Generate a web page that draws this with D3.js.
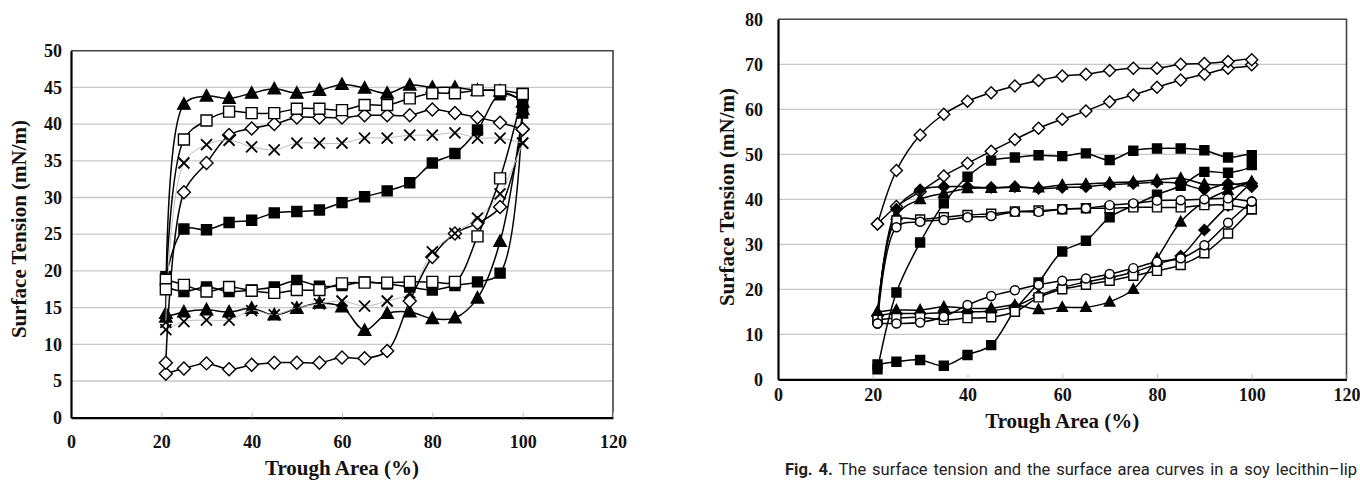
<!DOCTYPE html>
<html><head><meta charset="utf-8">
<script src="https://cdn.jsdelivr.net/npm/d3@7/dist/d3.min.js"></script>
<style>
body{margin:0;background:#fff;} svg{display:block;}
.serifb, .serifb text{font-family:'Liberation Serif','Times New Roman',serif !important;font-weight:bold !important;}
</style>
</head><body><svg id="c" width="1360" height="480"></svg>
<script>
// ---------- DATA ----------
const areaSteps = [21,25,30,35,40,45,50,55,60,65,70,75,80,85,90,95,100];
const xTickValues = [0,20,40,60,80,100,120];
const leftYTicks = [0,5,10,15,20,25,30,35,40,45,50];
const rightYTicks = [0,10,20,30,40,50,60,70,80];
const xTitle = "Trough Area (%)";
const yTitle = "Surface Tension (mN/m)";
const captionBold = "Fig. 4.";
const captionText = " The surface tension and the surface area curves in a soy lecithin\u2013lip";

// Left panel: lower branch and upper branch, values at areaSteps
const L_sqF_low = [17.8,17.2,17.8,17.2,17.4,17.8,18.7,17.9,18.0,18.5,18.2,17.8,17.4,18.0,18.5,19.7,41.5];
const L_sqF_up  = [19.2,25.7,25.6,26.6,26.9,27.9,28.1,28.3,29.3,30.1,30.9,32.0,34.7,36.0,39.2,44.0,43.0];
const L_tri_low = [13.7,14.4,14.7,14.4,14.9,14.0,14.9,15.6,15.1,11.9,14.2,14.4,13.5,13.6,16.3,24.0,42.0];
const L_tri_up  = [14.2,42.7,43.8,43.5,44.2,44.8,44.2,44.6,45.4,44.9,44.2,45.3,45.0,45.0,44.6,44.5,43.0];
const L_dia_low = [6.0,6.7,7.4,6.6,7.2,7.5,7.5,7.5,8.2,8.1,9.1,15.9,21.9,25.1,26.5,28.7,39.3];
const L_dia_up  = [7.5,30.7,34.7,38.5,39.4,40.0,40.9,40.9,40.9,41.2,41.2,41.2,42.0,41.5,40.9,40.2,39.3];
const L_x_low   = [12.0,13.1,13.3,13.3,14.6,14.0,15.0,15.5,15.9,15.2,15.9,17.0,22.6,25.1,27.2,30.5,37.4];
const L_x_up    = [13.0,34.7,37.2,37.8,36.9,36.5,37.4,37.4,37.4,38.1,38.1,38.5,38.5,38.8,38.1,38.1,37.4];
const L_sqO_low = [18.8,18.1,17.2,17.8,17.3,17.0,17.4,17.4,18.3,18.4,18.4,18.5,18.5,18.5,24.7,32.6,44.1];
const L_sqO_up  = [17.5,37.9,40.5,41.7,41.5,41.5,42.1,42.1,41.9,42.6,42.6,43.5,44.2,44.2,44.6,44.6,44.1];

// Right panel
const R_dia_low  = [34.5,38.4,41.7,45.2,48.0,50.7,53.3,55.8,57.8,59.6,61.7,63.2,64.9,66.5,67.8,69.1,69.9];
const R_dia_up   = [34.5,46.4,54.3,58.9,61.8,63.7,65.2,66.4,67.4,67.8,68.6,69.1,69.1,70.0,70.2,70.6,71.0];
const R_sqF_low  = [3.3,3.9,4.3,3.0,5.4,7.6,15.4,21.5,28.4,30.8,36.0,38.6,41.0,43.0,46.1,45.9,47.6];
const R_sqF_up   = [2.2,19.3,30.4,39.1,45.0,48.6,49.3,49.8,49.6,50.2,48.7,50.8,51.3,51.3,50.9,49.3,49.8];
const R_tri_low  = [15.0,15.4,15.4,16.1,15.8,15.8,16.5,15.5,16.0,16.0,17.2,20.0,26.9,35.0,39.5,42.0,43.9];
const R_tri_up   = [15.0,36.5,40.0,41.3,42.4,42.5,42.7,42.6,43.2,43.4,43.7,43.9,44.3,44.7,43.4,43.2,43.9];
const R_diaF_low = [14.2,14.6,14.6,14.8,15.0,15.2,16.2,18.6,20.4,21.6,22.6,23.8,25.6,27.4,33.2,38.6,43.5];
const R_diaF_up  = [14.2,37.8,42.1,42.8,42.8,42.6,42.8,42.4,42.6,42.8,43.3,43.5,43.8,43.5,42.2,43.5,42.8];
const R_sqO_low  = [13.2,13.6,13.8,13.2,13.6,13.8,15.0,18.2,20.0,21.0,21.9,23.0,24.1,25.4,28.0,32.4,37.8];
const R_sqO_up   = [13.2,35.3,35.5,36.0,36.5,36.8,37.3,37.5,37.8,38.0,38.0,38.2,38.2,38.2,38.7,38.7,37.8];
const R_cir_low  = [12.4,12.4,12.6,13.9,16.5,18.5,19.8,21.0,21.9,22.4,23.4,24.7,26.1,26.9,29.8,34.8,39.5];
const R_cir_up   = [12.4,33.8,35.0,35.4,36.0,36.3,37.2,37.2,37.8,38.0,38.7,39.1,39.7,39.8,40.0,40.2,39.5];

// ---------- DRAW ----------
const svg = d3.select("#c");

function markerPath(type, s){
  switch(type){
    case "square": return `M${-s},${-s}h${2*s}v${2*s}h${-2*s}Z`;
    case "diamond": return `M0,${-s}L${s},0L0,${s}L${-s},0Z`;
    case "triangle": return `M0,${-s}L${s*0.95},${s*0.75}L${-s*0.95},${s*0.75}Z`;
    case "x": return `M${-s},${-s}L${s},${s}M${s},${-s}L${-s},${s}`;
    case "circle": return d3.symbol(d3.symbolCircle, Math.PI*s*s)();
  }
}

function styleText(sel, size){
  sel.classed("serifb",true).attr("font-family",null).style("font-size",size+"px").attr("fill","#111");
}

function panel(cfg){
  const g = svg.append("g");
  const x = d3.scaleLinear([0,120],[cfg.x0,cfg.x1]);
  const y = d3.scaleLinear([0,cfg.ymax],[cfg.y0,cfg.y1]);
  // grid
  g.append("g").selectAll("line").data(cfg.yTicks.filter(v=>v>0 && v<cfg.ymax)).join("line")
    .attr("x1",x(0)).attr("x2",x(120)).attr("y1",d=>y(d)).attr("y2",d=>y(d))
    .attr("stroke","#c8c8c8").attr("stroke-width",1.3);
  // frame top/right
  g.append("path").attr("d",`M${x(0)},${y(cfg.ymax)}H${x(120)}V${y(0)}`)
    .attr("fill","none").attr("stroke","#444").attr("stroke-width",1.6);
  // x axis
  const ax = g.append("g").attr("transform",`translate(0,${y(0)})`)
    .call(d3.axisBottom(x).tickValues(cfg.xTicks).tickSizeInner(-5).tickSizeOuter(0).tickPadding(cfg.xPad));
  ax.attr("font-family",null).classed("serifb",true);
  ax.select(".domain").attr("stroke","#000").attr("stroke-width",2.2);
  ax.selectAll(".tick line").attr("stroke","#bbb");
  styleText(ax.selectAll("text"), 18);
  // y axis
  const ay = g.append("g").attr("transform",`translate(${x(0)},0)`)
    .call(d3.axisLeft(y).tickValues(cfg.yTicks).tickSize(0).tickPadding(cfg.yPad));
  ay.attr("font-family",null).classed("serifb",true);
  ay.select(".domain").attr("stroke","#000").attr("stroke-width",2.2);
  styleText(ay.selectAll("text"), 18);
  // titles
  styleText(g.append("text").attr("x",(x(0)+x(120))/2).attr("y",cfg.xTitleY).attr("text-anchor","middle").text(xTitle), 21);
  styleText(g.append("text").attr("transform",`translate(${cfg.yTitleX},${cfg.yTitleCY}) rotate(-90)`)
    .attr("text-anchor","middle").text(yTitle), 21);
  // series
  const line = d3.line().x(d=>x(d[0])).y(d=>y(d[1])).curve(d3.curveCatmullRom.alpha(0.5));
  cfg.series.forEach(s=>{
    const low = s.low.map((v,i)=>[areaSteps[i],v]);
    const up = s.up.map((v,i)=>[areaSteps[i],v]).reverse();
    const pts = low.concat(up);
    g.append("path").attr("d",line(pts)).attr("fill","none")
      .attr("stroke",s.lineColor||"#000").attr("stroke-width",s.lw||1.5);
    g.append("g").selectAll("path").data(pts).join("path")
      .attr("transform",d=>`translate(${x(d[0])},${y(d[1])})`)
      .attr("d",markerPath(s.type,s.size))
      .attr("fill",s.type==="x"?"none":(s.filled?"#000":"#fff"))
      .attr("stroke","#000").attr("stroke-width",s.type==="x"?1.8:1.4);
  });
}

panel({
  x0:71, x1:613, y0:417.7, y1:50.7, ymax:50, yTicks:leftYTicks, xTicks:xTickValues,
  xPad:18, yPad:9, xTitleY:475, yTitleX:26, yTitleCY:229,
  series:[
    {low:L_sqF_low, up:L_sqF_up, type:"square", filled:true, size:5},
    {low:L_tri_low, up:L_tri_up, type:"triangle", filled:true, size:6.5},
    {low:L_dia_low, up:L_dia_up, type:"diamond", filled:false, size:6.5},
    {low:L_x_low, up:L_x_up, type:"x", size:5.5, lineColor:"#bdbdbd", lw:1},
    {low:L_sqO_low, up:L_sqO_up, type:"square", filled:false, size:5.5}
  ]
});

panel({
  x0:778, x1:1346.5, y0:379.3, y1:19.3, ymax:80, yTicks:rightYTicks, xTicks:xTickValues,
  xPad:9, yPad:15, xTitleY:428, yTitleX:734, yTitleCY:197,
  series:[
    {low:R_dia_low, up:R_dia_up, type:"diamond", filled:false, size:6},
    {low:R_sqF_low, up:R_sqF_up, type:"square", filled:true, size:4.5},
    {low:R_tri_low, up:R_tri_up, type:"triangle", filled:true, size:5.5},
    {low:R_diaF_low, up:R_diaF_up, type:"diamond", filled:true, size:5.5},
    {low:R_sqO_low, up:R_sqO_up, type:"square", filled:false, size:4.5},
    {low:R_cir_low, up:R_cir_up, type:"circle", filled:false, size:4.5}
  ]
});

// caption
const cap = svg.append("text").attr("x",785).attr("y",475)
  .style("font-family","Roboto,'Noto Sans',sans-serif").style("font-size","16.5px").attr("fill","#222");
cap.append("tspan").style("font-weight","bold").text(captionBold);
cap.append("tspan").text(captionText);
// justify like the printed caption: stretch to the line width
const natural = cap.node().getComputedTextLength();
const spaces = (captionBold+captionText).split(" ").length-1;
const target = 572;
cap.attr("word-spacing", Math.max(0,(target-natural)/spaces));
</script></body></html>
